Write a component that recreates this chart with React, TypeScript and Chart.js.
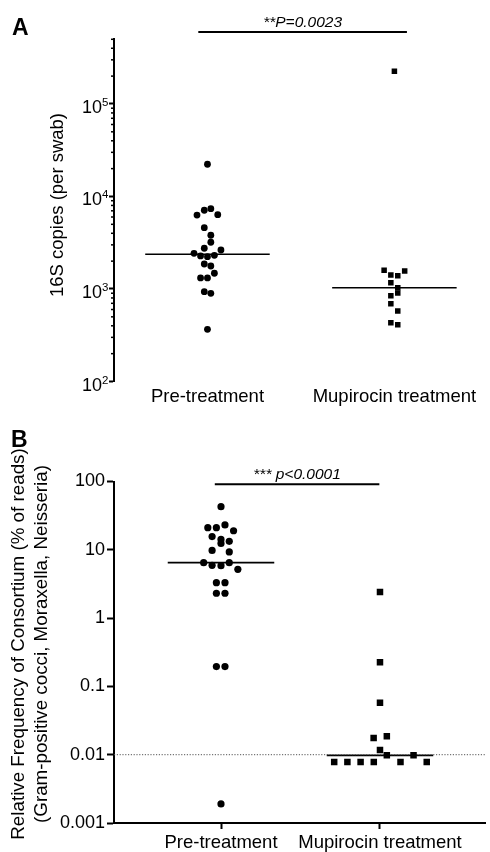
import React, { useEffect, useRef } from 'react';
import { Chart, registerables } from 'chart.js';

Chart.register(...registerables);

const FONT = "'Liberation Sans', Arial, Helvetica, sans-serif";

const categories = ['Pre-treatment', 'Mupirocin treatment'];

// ---- Panel A : 16S copies (per swab) ----
const aPreValues = [22300, 7380, 7100, 6350, 6300, 4600, 3810, 3200, 2755, 2640, 2430, 2313, 2275, 2235, 1862, 1773, 1479, 1316, 1316, 935, 898, 366];
const aPreX = [1.0, 1.018, 0.983, 1.055, 0.944, 0.983, 1.018, 1.018, 0.983, 1.072, 0.928, 1.037, 0.963, 1.0, 0.983, 1.018, 1.037, 0.963, 1.0, 0.983, 1.018, 1.0];
const aMupValues = [226000, 1593, 1416, 1393, 1567, 1169, 1033, 905, 847, 694, 578, 432, 411];
const aMupX = [2.0, 1.945, 1.981, 2.018, 2.055, 1.981, 2.018, 2.018, 1.981, 1.981, 2.018, 1.981, 2.018];
const aMedians = [2370, 1033];
const aTicks = [100, 1000, 10000, 100000];
const aTickBase = '10';
const aTickExponents = ['2', '3', '4', '5'];
const aTitle = '16S copies (per swab)';
const aSigLabel = '**P=0.0023';

// ---- Panel B : relative frequency of consortium ----
const bPreValues = [42.8, 21.1, 21.1, 23.1, 19.0, 15.6, 14.2, 12.4, 13.3, 9.8, 9.3, 6.48, 5.93, 5.85, 6.48, 5.18, 3.3, 3.3, 2.31, 2.31, 0.195, 0.195, 0.0019];
const bPreX = [1.0, 0.917, 0.971, 1.025, 1.079, 0.944, 1.0, 1.0, 1.052, 0.944, 1.052, 0.891, 0.944, 1.0, 1.052, 1.106, 0.971, 1.025, 0.971, 1.025, 0.971, 1.025, 1.0];
const bMupValues = [2.41, 0.225, 0.0578, 0.0175, 0.0186, 0.0117, 0.0098, 0.0098, 0.0078, 0.0078, 0.0078, 0.0078, 0.0078, 0.0078];
const bMupX = [2.0, 2.0, 2.0, 1.96, 2.043, 2.0, 2.043, 2.211, 1.712, 1.795, 1.878, 1.961, 2.129, 2.294];
const bMedians = [6.47, 0.0098];
const bThreshold = 0.01;
const bTicks = [0.001, 0.01, 0.1, 1, 10, 100];
const bTickLabels = ['0.001', '0.01', '0.1', '1', '10', '100'];
const bTitle = ['Relative Frequency of Consortium (% of reads)', '(Gram-positive cocci, Moraxella, Neisseria)'];
const bSigLabel = '*** p<0.0001';

type Overlay = {
  letter: string;
  letterX: number;
  letterY: number;
  title: string[];
  titleX: number;
  titleY: number;
  titleSize: number;
  titleLine: number;
  sig: { x1: number; x2: number; y: number; label: string; size: number };
  minorTicks: number[];
  minorLen: number;
  powerLabels?: { values: number[]; base: string; exps: string[]; right: number };
};

function overlayPlugin(o: Overlay) {
  return {
    id: 'overlay',
    afterDraw(chart: any) {
      const ctx = chart.ctx as CanvasRenderingContext2D;
      const xs = chart.scales.x;
      const ys = chart.scales.y;
      const left = chart.chartArea.left;
      ctx.save();
      ctx.fillStyle = '#000';
      ctx.strokeStyle = '#000';
      // minor ticks
      ctx.lineWidth = 1.5;
      o.minorTicks.forEach((v) => {
        const py = ys.getPixelForValue(v);
        ctx.beginPath();
        ctx.moveTo(left - o.minorLen, py);
        ctx.lineTo(left, py);
        ctx.stroke();
      });
      // power-of-ten tick labels with superscript exponents
      if (o.powerLabels) {
        const p = o.powerLabels;
        p.values.forEach((v, i) => {
          const py = ys.getPixelForValue(v);
          ctx.font = `11.5px ${FONT}`;
          ctx.textAlign = 'right';
          ctx.textBaseline = 'alphabetic';
          const ew = ctx.measureText(p.exps[i]).width;
          ctx.fillText(p.exps[i], p.right, py + 2);
          ctx.font = `18px ${FONT}`;
          ctx.fillText(p.base, p.right - ew, py + 9);
        });
      }
      // significance bar
      const x1 = xs.getPixelForValue(o.sig.x1);
      const x2 = xs.getPixelForValue(o.sig.x2);
      const sy = ys.getPixelForValue(o.sig.y);
      ctx.lineWidth = 2;
      ctx.beginPath();
      ctx.moveTo(x1, sy);
      ctx.lineTo(x2, sy);
      ctx.stroke();
      ctx.font = `italic ${o.sig.size}px ${FONT}`;
      ctx.textAlign = 'center';
      ctx.textBaseline = 'alphabetic';
      ctx.fillText(o.sig.label, (x1 + x2) / 2, sy - 5);
      // y title
      ctx.save();
      ctx.translate(o.titleX, o.titleY);
      ctx.rotate(-Math.PI / 2);
      ctx.font = `${o.titleSize}px ${FONT}`;
      ctx.textAlign = 'center';
      ctx.textBaseline = 'middle';
      o.title.forEach((t, i) => ctx.fillText(t, 0, i * o.titleLine));
      ctx.restore();
      // panel letter
      ctx.font = `bold 23px ${FONT}`;
      ctx.textAlign = 'left';
      ctx.textBaseline = 'alphabetic';
      ctx.fillText(o.letter, o.letterX, o.letterY);
      ctx.restore();
    },
  };
}

function minorTicksFor(min: number, max: number): number[] {
  const out: number[] = [];
  for (let e = Math.log10(min); e < Math.log10(max); e++) {
    for (let m = 2; m <= 9; m++) {
      const v = m * Math.pow(10, e);
      if (v <= max * 1.0001) out.push(v);
    }
  }
  return out;
}

function configA(): any {
  return {
    type: 'scatter',
    data: {
      datasets: [
        { data: aPreValues.map((v, i) => ({ x: aPreX[i], y: v })), pointStyle: 'circle', pointRadius: 3.4, backgroundColor: '#000', borderWidth: 0 },
        { data: aMupValues.map((v, i) => ({ x: aMupX[i], y: v })), pointStyle: 'rect', pointRadius: 3.9, backgroundColor: '#000', borderWidth: 0 },
        { data: [{ x: 1 - 0.333, y: aMedians[0] }, { x: 1 + 0.333, y: aMedians[0] }], showLine: true, pointRadius: 0, borderColor: '#000', borderWidth: 1.5 },
        { data: [{ x: 2 - 0.333, y: aMedians[1] }, { x: 2 + 0.333, y: aMedians[1] }], showLine: true, pointRadius: 0, borderColor: '#000', borderWidth: 1.5 },
      ],
    },
    options: {
      responsive: false,
      animation: false,
      devicePixelRatio: 1,
      layout: { padding: { top: 39.3, left: 0, right: 0, bottom: 0 } },
      plugins: { legend: { display: false }, tooltip: { enabled: false } },
      scales: {
        x: {
          type: 'linear',
          min: 0.5,
          max: 2.49,
          afterBuildTicks: (s: any) => { s.ticks = [{ value: 1 }, { value: 2 }]; },
          afterFit: (s: any) => { s.height = 38.5; },
          ticks: { callback: (_v: any, i: number) => categories[i], font: { size: 18.5, family: FONT }, color: '#000', padding: 4, autoSkip: false, maxRotation: 0 },
          grid: { display: false, drawTicks: false },
          border: { display: false },
        },
        y: {
          type: 'logarithmic',
          min: 100,
          max: 500000,
          afterBuildTicks: (s: any) => { s.ticks = aTicks.map((v) => ({ value: v, major: true })); },
          afterFit: (s: any) => { s.width = 114; },
          ticks: { display: false },
          grid: { drawOnChartArea: false, tickLength: 5, tickWidth: 2, tickColor: '#000' },
          border: { display: true, color: '#000', width: 2 },
        },
      },
    },
    plugins: [overlayPlugin({
      letter: 'A', letterX: 12, letterY: 35,
      title: [aTitle], titleX: 58, titleY: 205, titleSize: 18.5, titleLine: 22,
      sig: { x1: 0.951, x2: 2.067, y: 600000, label: aSigLabel, size: 15.5 },
      minorTicks: minorTicksFor(100, 500000), minorLen: 3,
      powerLabels: { values: aTicks, base: aTickBase, exps: aTickExponents, right: 108.5 },
    })],
  };
}

function configB(): any {
  return {
    type: 'scatter',
    data: {
      datasets: [
        { data: bPreValues.map((v, i) => ({ x: bPreX[i], y: v })), pointStyle: 'circle', pointRadius: 3.6, backgroundColor: '#000', borderWidth: 0 },
        { data: bMupValues.map((v, i) => ({ x: bMupX[i], y: v })), pointStyle: 'rect', pointRadius: 4.6, backgroundColor: '#000', borderWidth: 0 },
        { data: [{ x: 0.327, y: bThreshold }, { x: 2.663, y: bThreshold }], showLine: true, pointRadius: 0, borderColor: '#555', borderWidth: 1, borderDash: [1.2, 1.6] },
        { data: [{ x: 1 - 0.335, y: bMedians[0] }, { x: 1 + 0.335, y: bMedians[0] }], showLine: true, pointRadius: 0, borderColor: '#000', borderWidth: 1.8 },
        { data: [{ x: 2 - 0.335, y: bMedians[1] }, { x: 2 + 0.335, y: bMedians[1] }], showLine: true, pointRadius: 0, borderColor: '#000', borderWidth: 1.8 },
      ],
    },
    options: {
      responsive: false,
      animation: false,
      devicePixelRatio: 1,
      layout: { padding: { top: 61.5, left: 0, right: 0, bottom: 0 } },
      plugins: { legend: { display: false }, tooltip: { enabled: false } },
      scales: {
        x: {
          type: 'linear',
          min: 0.327,
          max: 2.663,
          afterBuildTicks: (s: any) => { s.ticks = [{ value: 1 }, { value: 2 }]; },
          afterFit: (s: any) => { s.height = 29; },
          ticks: { callback: (_v: any, i: number) => categories[i], font: { size: 18.5, family: FONT }, color: '#000', padding: 2.4, autoSkip: false, maxRotation: 0 },
          grid: { drawOnChartArea: false, tickLength: 6, tickWidth: 2, tickColor: '#000' },
          border: { display: true, color: '#000', width: 2 },
        },
        y: {
          type: 'logarithmic',
          min: 0.001,
          max: 100,
          afterBuildTicks: (s: any) => { s.ticks = bTicks.map((v) => ({ value: v, major: true })); },
          afterFit: (s: any) => { s.width = 114; },
          ticks: { callback: (_v: any, i: number) => bTickLabels[i], font: { size: 18, family: FONT }, color: '#000', padding: 2 },
          grid: { drawOnChartArea: false, tickLength: 7, tickWidth: 2, tickColor: '#000' },
          border: { display: true, color: '#000', width: 2 },
        },
      },
    },
    plugins: [overlayPlugin({
      letter: 'B', letterX: 11, letterY: 447 - 420,
      title: bTitle, titleX: 19, titleY: 644 - 420, titleSize: 18.8, titleLine: 23,
      sig: { x1: 0.961, x2: 1.996, y: 91, label: bSigLabel, size: 15.5 },
      minorTicks: [], minorLen: 0,
    })],
  };
}

export default function App() {
  const refA = useRef<HTMLCanvasElement>(null);
  const refB = useRef<HTMLCanvasElement>(null);

  useEffect(() => {
    document.body.style.margin = '0';
    Chart.defaults.font.family = FONT;
    const a = new Chart(refA.current as HTMLCanvasElement, configA());
    const b = new Chart(refB.current as HTMLCanvasElement, configB());
    return () => { a.destroy(); b.destroy(); };
  }, []);

  return (
    <div style={{ position: 'relative', width: 490, height: 852, background: '#fff' }}>
      <canvas ref={refA} width={490} height={420} style={{ position: 'absolute', left: 0, top: 0, width: 490, height: 420 }} />
      <canvas ref={refB} width={490} height={432} style={{ position: 'absolute', left: 0, top: 420, width: 490, height: 432 }} />
    </div>
  );
}
